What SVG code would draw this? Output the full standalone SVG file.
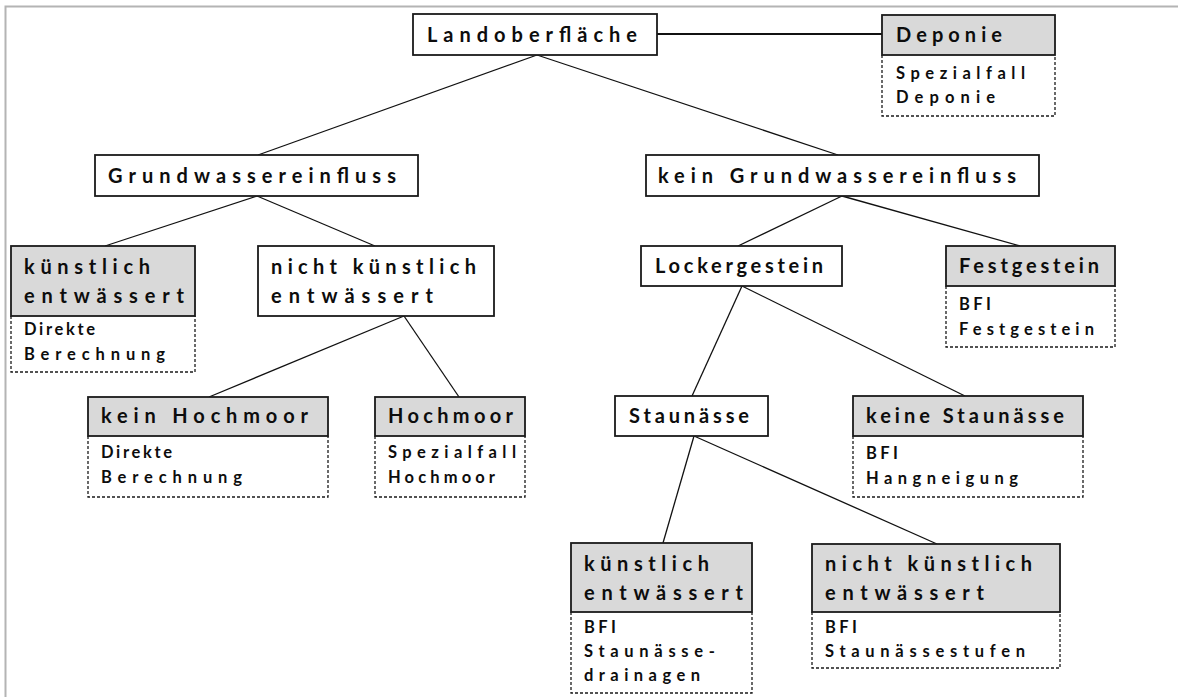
<svg xmlns="http://www.w3.org/2000/svg" width="1178" height="697" viewBox="0 0 1178 697">
<style>
.frame{stroke:#b4b4b4;stroke-width:2;fill:none}
.box{fill:#fff;stroke:#1a1a1a;stroke-width:1.8}
.hdr{fill:#d9d9d9;stroke:#1a1a1a;stroke-width:1.8}
.sub{fill:#fff;stroke:#1a1a1a;stroke-width:1.3;stroke-dasharray:3 2}
.h{font-family:Lato,"Open Sans","Liberation Sans",sans-serif;font-weight:bold;font-size:20px;fill:#0d0d0d}
.s{font-family:Lato,"Open Sans","Liberation Sans",sans-serif;font-weight:bold;font-size:16.5px;fill:#0d0d0d}
.con line{stroke:#111;stroke-width:1.3}
</style>
<rect width="1178" height="697" fill="#fff"/>
<path class="frame" d="M5.5 697 V6.5 H1178"/>
<g class="con" id="connectors">
<line x1="657" y1="34" x2="882" y2="34" style="stroke-width:1.8"/>
<line x1="537" y1="55" x2="258" y2="155"/>
<line x1="537" y1="55" x2="838" y2="155"/>
<line x1="257" y1="196" x2="105" y2="246"/>
<line x1="257" y1="196" x2="375" y2="246"/>
<line x1="842" y1="196" x2="738" y2="246"/>
<line x1="842" y1="196" x2="1020" y2="246"/>
<line x1="404" y1="316" x2="209" y2="397"/>
<line x1="404" y1="316" x2="459" y2="397"/>
<line x1="742" y1="286" x2="692" y2="396"/>
<line x1="742" y1="286" x2="965" y2="396"/>
<line x1="694" y1="436" x2="663" y2="543"/>
<line x1="694" y1="436" x2="937" y2="544"/>
</g>
<g id="landoberflaeche">
<rect class="box" x="413" y="14" width="244" height="41"/>
<text class="h" x="427" y="42" textLength="210" lengthAdjust="spacing">Landoberfläche</text>
</g>
<g id="deponie">
<path class="sub" d="M882 55 V116 H1055 V55"/>
<rect class="hdr" x="882" y="15" width="173" height="40"/>
<text class="h" x="896" y="42" textLength="106" lengthAdjust="spacing">Deponie</text>
<text class="s" x="896" y="79" textLength="129" lengthAdjust="spacing">Spezialfall</text>
<text class="s" x="896" y="103" textLength="99" lengthAdjust="spacing">Deponie</text>
</g>
<g id="grundwassereinfluss">
<rect class="box" x="95" y="155" width="323" height="41"/>
<text class="h" x="108" y="183" textLength="288" lengthAdjust="spacing">Grundwassereinfluss</text>
</g>
<g id="kein-grundwassereinfluss">
<rect class="box" x="646" y="155" width="393" height="41"/>
<text class="h" x="658" y="183" textLength="358" lengthAdjust="spacing">kein Grundwassereinfluss</text>
</g>
<g id="kuenstlich-entwaessert-1">
<path class="sub" d="M11 316 V372 H195 V316"/>
<rect class="hdr" x="11" y="246" width="184" height="70"/>
<text class="h" x="24" y="274" textLength="126" lengthAdjust="spacing">künstlich</text>
<text class="h" x="24" y="303" textLength="160" lengthAdjust="spacing">entwässert</text>
<text class="s" x="24" y="335" textLength="71" lengthAdjust="spacing">Direkte</text>
<text class="s" x="24" y="360" textLength="141" lengthAdjust="spacing">Berechnung</text>
</g>
<g id="nicht-kuenstlich-entwaessert-1">
<rect class="box" x="258" y="246" width="236" height="70"/>
<text class="h" x="271" y="274" textLength="205" lengthAdjust="spacing">nicht künstlich</text>
<text class="h" x="271" y="303" textLength="162" lengthAdjust="spacing">entwässert</text>
</g>
<g id="lockergestein">
<rect class="box" x="641" y="246" width="201" height="40"/>
<text class="h" x="655" y="273" textLength="168" lengthAdjust="spacing">Lockergestein</text>
</g>
<g id="festgestein">
<path class="sub" d="M946 286 V347 H1115 V286"/>
<rect class="hdr" x="946" y="246" width="169" height="40"/>
<text class="h" x="959" y="273" textLength="140" lengthAdjust="spacing">Festgestein</text>
<text class="s" x="959" y="310" textLength="32" lengthAdjust="spacing">BFI</text>
<text class="s" x="959" y="335" textLength="135" lengthAdjust="spacing">Festgestein</text>
</g>
<g id="kein-hochmoor">
<path class="sub" d="M88 436 V497 H328 V436"/>
<rect class="hdr" x="88" y="397" width="240" height="39"/>
<text class="h" x="101" y="423" textLength="207" lengthAdjust="spacing">kein Hochmoor</text>
<text class="s" x="101" y="458" textLength="71" lengthAdjust="spacing">Direkte</text>
<text class="s" x="101" y="483" textLength="141" lengthAdjust="spacing">Berechnung</text>
</g>
<g id="hochmoor">
<path class="sub" d="M375 436 V497 H525 V436"/>
<rect class="hdr" x="375" y="397" width="150" height="39"/>
<text class="h" x="388" y="423" textLength="125" lengthAdjust="spacing">Hochmoor</text>
<text class="s" x="388" y="458" textLength="128" lengthAdjust="spacing">Spezialfall</text>
<text class="s" x="388" y="483" textLength="107" lengthAdjust="spacing">Hochmoor</text>
</g>
<g id="staunaesse">
<rect class="box" x="615" y="396" width="153" height="40"/>
<text class="h" x="629" y="423" textLength="120" lengthAdjust="spacing">Staunässe</text>
</g>
<g id="keine-staunaesse">
<path class="sub" d="M853 436 V497 H1083 V436"/>
<rect class="hdr" x="853" y="396" width="230" height="40"/>
<text class="h" x="866" y="423" textLength="198" lengthAdjust="spacing">keine Staunässe</text>
<text class="s" x="866" y="459" textLength="32" lengthAdjust="spacing">BFI</text>
<text class="s" x="866" y="484" textLength="152" lengthAdjust="spacing">Hangneigung</text>
</g>
<g id="kuenstlich-entwaessert-2">
<path class="sub" d="M571 612 V693 H752 V612"/>
<rect class="hdr" x="571" y="543" width="181" height="69"/>
<text class="h" x="584" y="571" textLength="125" lengthAdjust="spacing">künstlich</text>
<text class="h" x="584" y="600" textLength="159" lengthAdjust="spacing">entwässert</text>
<text class="s" x="584" y="633" textLength="32" lengthAdjust="spacing">BFI</text>
<text class="s" x="584" y="657" textLength="131" lengthAdjust="spacing">Staunässe-</text>
<text class="s" x="584" y="681" textLength="116" lengthAdjust="spacing">drainagen</text>
</g>
<g id="nicht-kuenstlich-entwaessert-2">
<path class="sub" d="M812 612 V668 H1060 V612"/>
<rect class="hdr" x="812" y="544" width="248" height="68"/>
<text class="h" x="825" y="571" textLength="207" lengthAdjust="spacing">nicht künstlich</text>
<text class="h" x="825" y="600" textLength="159" lengthAdjust="spacing">entwässert</text>
<text class="s" x="825" y="633" textLength="32" lengthAdjust="spacing">BFI</text>
<text class="s" x="825" y="657" textLength="200" lengthAdjust="spacing">Staunässestufen</text>
</g>
</svg>
